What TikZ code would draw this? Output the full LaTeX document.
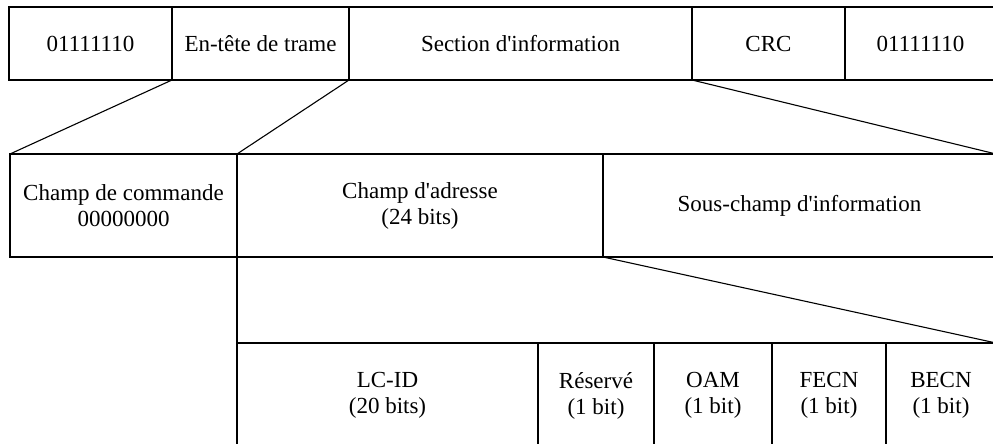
\documentclass[tikz,border=0pt]{standalone}
\usepackage{fontspec}
\setmainfont{Liberation Serif}
\usetikzlibrary{calc}
\newcommand{\ap}{\textquotesingle}

\begin{document}
\begin{tikzpicture}[x=1pt, y=-1pt,
    cell/.style 2 args={draw, line width=1.1pt, anchor=north west, inner sep=0pt,
        outer sep=0pt, align=center, minimum width=#1pt, minimum height=#2pt,
        font=\fontsize{23}{26}\selectfont},
    link/.style={line width=1.1pt}]
    \useasboundingbox (0,0) rectangle (993,444);

    % trame
    \node[cell={163}{73}] (flag1) at (9,7) {01111110};
    \node[cell={177}{73}] (entete) at (172,7) {En-tête de trame};
    \node[cell={343}{73}] (section) at (349,7) {Section d\ap information};
    \node[cell={153}{73}] (crc) at (692,7) {CRC};
    \node[cell={151}{73}] (flag2) at (845,7) {01111110};

    % en-tete + section
    \node[cell={227}{103}] (cmd) at (10,154) {Champ de commande\\00000000};
    \node[cell={366}{103}] (adr) at (237,154) {Champ d\ap adresse\\(24 bits)};
    \node[cell={393}{103}] (sous) at (603,154) {Sous-champ d\ap information};

    % champ d'adresse
    \node[cell={301}{105}] (lcid) at (237,343) {LC-ID\\(20 bits)};
    \node[cell={116}{105}] (res) at (538,343) {Réservé\\(1 bit)};
    \node[cell={118}{105}] (oam) at (654,343) {OAM\\(1 bit)};
    \node[cell={114}{105}] (fecn) at (772,343) {FECN\\(1 bit)};
    \node[cell={110}{105}] (becn) at (886,343) {BECN\\(1 bit)};

    \draw[link] (entete.south west) -- (cmd.north west);
    \draw[link] (entete.south east) -- (adr.north west);
    \draw[link] (section.south east) -- (sous.north east);
    \draw[link] (adr.south west) -- (lcid.north west);
    \draw[link] (adr.south east) -- (becn.north east);
\end{tikzpicture}
\end{document}
